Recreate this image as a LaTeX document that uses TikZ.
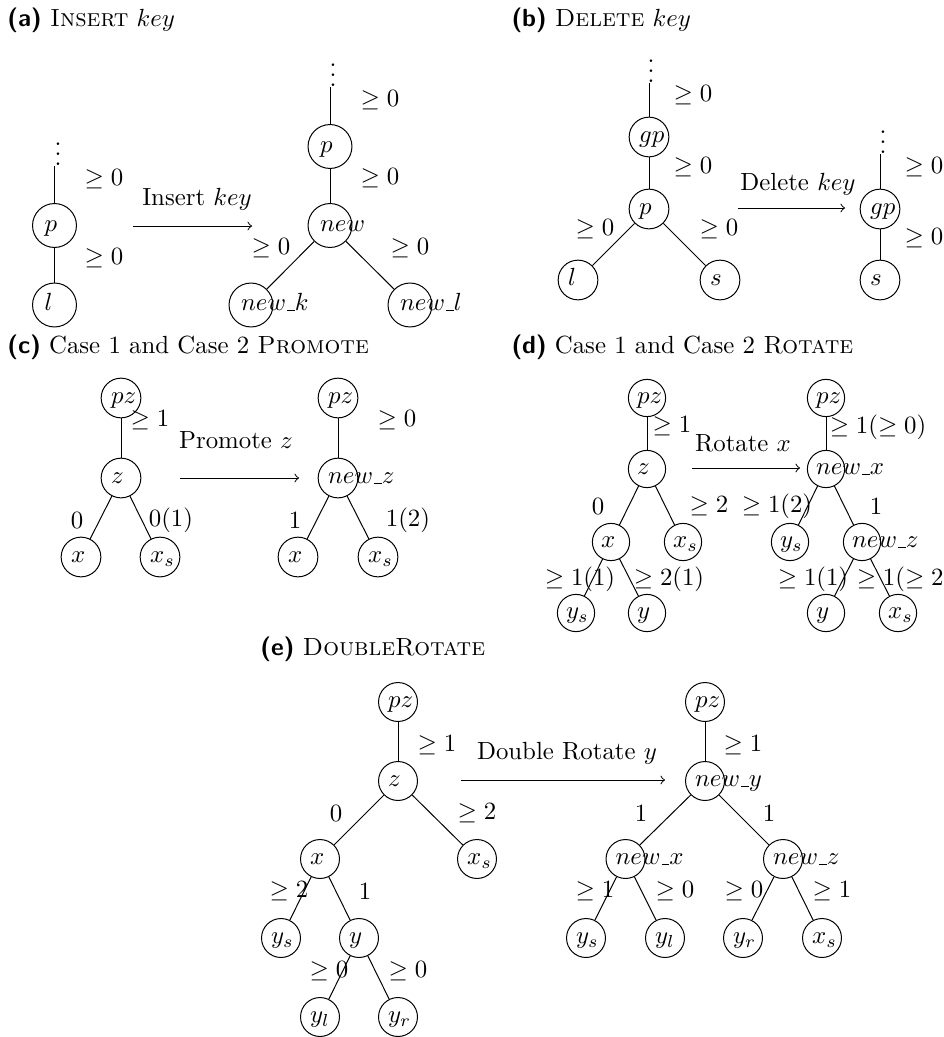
\documentclass[tikz,border=0pt]{standalone}
\tikzset{
  vtx/.style={circle, draw, minimum size=16pt, inner sep=0pt},
  wt/.style={inner sep=0pt},
  vdot/.style={inner sep=0pt, anchor=south},
  subcap/.style={anchor=base west, inner sep=0pt},
  op/.style={->},
}
\newcommand{\vname}[1]{\makebox[0pt][l]{\kern-4pt\strut$#1$}}
\newcommand{\us}{\mbox{\kern.06em\vbox{\hrule width.3em}}}
\newcommand{\pcap}[1]{{\sffamily\bfseries (#1)}\ }
\begin{document}
\begin{tikzpicture}[x=0.403pt, y=-0.403pt]
  \useasboundingbox (0,0) rectangle (944,1037);

  % (a)
  \node[subcap] (capa) at (7,27) {\pcap{a}\textsc{Insert} $key$};
  \begin{scope}[vtx/.append style={minimum size=17.7pt}]
    \node[vdot]      (ad1)   at (58,166)    {$\vdots$};
    \node[vtx]       (ap1)   at (54.5,225.5) {\vname{p}};
    \node[vtx]       (al)    at (54.5,305)  {\vname{l}};
    \node[wt]        (aw1)   at (104,179)   {$\geq 0$};
    \node[wt]        (aw2)   at (104,258)   {$\geq 0$};
    \draw (ap1 |- ad1.south) -- (ap1);
    \draw (ap1) -- (al);

    \coordinate (aa) at (133,226);
    \coordinate (ab) at (252,226);
    \draw[op] (aa) -- (ab);
    \node[wt]        (aop)   at (197,199)   {Insert $key$};

    \node[vdot]      (ad2)   at (333,87)    {$\vdots$};
    \node[vtx]       (ap2)   at (330,146.5) {\vname{p}};
    \node[vtx]       (anew)  at (330,225.5) {\vname{new}};
    \node[vtx]       (ank)   at (251,305)   {\vname{new\us k}};
    \node[vtx]       (anl)   at (410,305)   {\vname{new\us l}};
    \node[wt]        (aw3)   at (380,100)   {$\geq 0$};
    \node[wt]        (aw4)   at (380,178)   {$\geq 0$};
    \node[wt]        (aw5)   at (271,248)   {$\geq 0$};
    \node[wt]        (aw6)   at (410,248)   {$\geq 0$};
    \draw (ap2 |- ad2.south) -- (ap2);
    \draw (ap2) -- (anew);
    \draw (anew) -- (ank);
    \draw (anew) -- (anl);
  \end{scope}

  % (b)
  \node[subcap] (capb) at (511,27) {\pcap{b}\textsc{Delete} $key$};
  \node[vdot]        (bd1)   at (651,83)    {$\vdots$};
  \node[vtx]         (bgp1)  at (649,137)   {\vname{gp}};
  \node[vtx]         (bp)    at (649,209)   {\vname{p}};
  \node[vtx]         (bl)    at (578,280)   {\vname{l}};
  \node[vtx]         (bs1)   at (720,280)   {\vname{s}};
  \node[wt]          (bw1)   at (693,95)    {$\geq 0$};
  \node[wt]          (bw2)   at (693,167)   {$\geq 0$};
  \node[wt]          (bw3)   at (595,229)   {$\geq 0$};
  \node[wt]          (bw4)   at (719,229)   {$\geq 0$};
  \draw (bgp1 |- bd1.south) -- (bgp1);
  \draw (bgp1) -- (bp);
  \draw (bp) -- (bl);
  \draw (bp) -- (bs1);

  \coordinate (ba) at (738,208);
  \coordinate (bb) at (845,208);
  \draw[op] (ba) -- (bb);
  \node[wt]          (bop)   at (798,184)   {Delete $key$};

  \node[vdot]        (bd2)   at (883,154)   {$\vdots$};
  \node[vtx]         (bgp2)  at (880,209)   {\vname{gp}};
  \node[vtx]         (bs2)   at (880,280)   {\vname{s}};
  \node[wt]          (bw5)   at (924,167)   {$\geq 0$};
  \node[wt]          (bw6)   at (924,238)   {$\geq 0$};
  \draw (bgp2 |- bd2.south) -- (bgp2);
  \draw (bgp2) -- (bs2);

  % (c)
  \node[subcap] (capc) at (7,353) {\pcap{c}Case 1 and Case 2 \textsc{Promote}};
  \node[vtx]         (cpz1)  at (121,398)   {\vname{pz}};
  \node[vtx]         (cz)    at (121,478)   {\vname{z}};
  \node[vtx]         (cx1)   at (81,557)    {\vname{x}};
  \node[vtx]         (cxs1)  at (160,557)   {\vname{x_s}};
  \node[wt]          (cw1)   at (150,420)   {$\geq 1$};
  \node[wt]          (cw2)   at (77,520)    {$0$};
  \node[wt]          (cw3)   at (171,520)   {$0(1)$};
  \draw (cpz1) -- (cz);
  \draw (cz) -- (cx1);
  \draw (cz) -- (cxs1);

  \coordinate (ca) at (180,478);
  \coordinate (cb) at (299,478);
  \draw[op] (ca) -- (cb);
  \node[wt]          (cop)   at (236,440)   {Promote $z$};

  \node[vtx]         (cpz2)  at (338,398)   {\vname{pz}};
  \node[vtx]         (cnz)   at (338,478)   {\vname{new\us z}};
  \node[vtx]         (cx2)   at (298,557)   {\vname{x}};
  \node[vtx]         (cxs2)  at (378,557)   {\vname{x_s}};
  \node[wt]          (cw4)   at (397,420)   {$\geq 0$};
  \node[wt]          (cw5)   at (295,520)   {$1$};
  \node[wt]          (cw6)   at (408,520)   {$1(2)$};
  \draw (cpz2) -- (cnz);
  \draw (cnz) -- (cx2);
  \draw (cnz) -- (cxs2);

  % (d)
  \node[subcap] (capd) at (511,353) {\pcap{d}Case 1 and Case 2 \textsc{Rotate}};
  \begin{scope}[vtx/.append style={minimum size=15pt}]
    \node[vtx]       (dpz1)  at (647,398)   {\vname{pz}};
    \node[vtx]       (dz)    at (647,469)   {\vname{z}};
    \node[vtx]       (dx)    at (611,542)   {\vname{x}};
    \node[vtx]       (dxs1)  at (683,542)   {\vname{x_s}};
    \node[vtx]       (dys1)  at (576,613)   {\vname{y_s}};
    \node[vtx]       (dy1)   at (647,613)   {\vname{y}};
    \node[wt]        (dw1)   at (672,426)   {$\geq 1$};
    \node[wt]        (dw2)   at (598,506)   {$0$};
    \node[wt]        (dw3)   at (709,506)   {$\geq 2$};
    \node[wt]        (dw4)   at (580,579)   {$\geq 1(1)$};
    \node[wt]        (dw5)   at (669,579)   {$\geq 2(1)$};
    \draw (dpz1) -- (dz);
    \draw (dz) -- (dx);
    \draw (dz) -- (dxs1);
    \draw (dx) -- (dys1);
    \draw (dx) -- (dy1);

    \coordinate (da) at (692,468);
    \coordinate (db) at (800,468);
    \draw[op] (da) -- (db);
    \node[wt]        (dop)   at (743,443)   {Rotate $x$};

    \node[vtx]       (dpz2)  at (826,398)   {\vname{pz}};
    \node[vtx]       (dnx)   at (826,469)   {\vname{new\us x}};
    \node[vtx]       (dys2)  at (790,542)   {\vname{y_s}};
    \node[vtx]       (dnz)   at (862,542)   {\vname{new\us z}};
    \node[vtx]       (dy2)   at (826,613)   {\vname{y}};
    \node[vtx]       (dxs2)  at (898,613)   {\vname{x_s}};
    \node[wt]        (dw6)   at (878,427)   {$\geq 1(\geq 0)$};
    \node[wt]        (dw7)   at (777,506)   {$\geq 1(2)$};
    \node[wt]        (dw8)   at (876,506)   {$1$};
    \node[wt]        (dw9)   at (813,579)   {$\geq 1(1)$};
    \node[wt]        (dw10)  at (905,579)   {$\geq 1(\geq 2)$};
    \draw (dpz2) -- (dnx);
    \draw (dnx) -- (dys2);
    \draw (dnx) -- (dnz);
    \draw (dnz) -- (dy2);
    \draw (dnz) -- (dxs2);
  \end{scope}

  % (e)
  \node[subcap] (cape) at (260,655) {\pcap{e}\textsc{DoubleRotate}};
  \begin{scope}[vtx/.append style={minimum size=15.7pt}]
    \node[vtx]       (epz1)  at (398,702)   {\vname{pz}};
    \node[vtx]       (ez)    at (398,781)   {\vname{z}};
    \node[vtx]       (ex)    at (320,859)   {\vname{x}};
    \node[vtx]       (exs1)  at (477,859)   {\vname{x_s}};
    \node[vtx]       (eys1)  at (281,938)   {\vname{y_s}};
    \node[vtx]       (ey)    at (359,938)   {\vname{y}};
    \node[vtx]       (eyl1)  at (320,1017)  {\vname{y_l}};
    \node[vtx]       (eyr1)  at (398,1017)  {\vname{y_r}};
    \node[wt]        (ew1)   at (437,745)   {$\geq 1$};
    \node[wt]        (ew2)   at (336,813)   {$0$};
    \node[wt]        (ew3)   at (477,813)   {$\geq 2$};
    \node[wt]        (ew4)   at (289,891)   {$\geq 2$};
    \node[wt]        (ew5)   at (365,891)   {$1$};
    \node[wt]        (ew6)   at (329,971)   {$\geq 0$};
    \node[wt]        (ew7)   at (408,971)   {$\geq 0$};
    \draw (epz1) -- (ez);
    \draw (ez) -- (ex);
    \draw (ez) -- (exs1);
    \draw (ex) -- (eys1);
    \draw (ex) -- (ey);
    \draw (ey) -- (eyl1);
    \draw (ey) -- (eyr1);

    \coordinate (ea) at (461,780);
    \coordinate (eb) at (665,780);
    \draw[op] (ea) -- (eb);
    \node[wt]        (eop)   at (567,753)   {Double Rotate $y$};

    \node[vtx]       (epz2)  at (705,702)   {\vname{pz}};
    \node[vtx]       (eny)   at (705,781)   {\vname{new\us y}};
    \node[vtx]       (enx)   at (625.5,859) {\vname{new\us x}};
    \node[vtx]       (enz)   at (783,859)   {\vname{new\us z}};
    \node[vtx]       (eys2)  at (586,938)   {\vname{y_s}};
    \node[vtx]       (eyl2)  at (665,938)   {\vname{y_l}};
    \node[vtx]       (eyr2)  at (743,938)   {\vname{y_r}};
    \node[vtx]       (exs2)  at (822,938)   {\vname{x_s}};
    \node[wt]        (ew8)   at (743,745)   {$\geq 1$};
    \node[wt]        (ew9)   at (641,813)   {$1$};
    \node[wt]        (ew10)  at (769,813)   {$1$};
    \node[wt]        (ew11)  at (595,891)   {$\geq 1$};
    \node[wt]        (ew12)  at (675,891)   {$\geq 0$};
    \node[wt]        (ew13)  at (744,891)   {$\geq 0$};
    \node[wt]        (ew14)  at (832,891)   {$\geq 1$};
    \draw (epz2) -- (eny);
    \draw (eny) -- (enx);
    \draw (eny) -- (enz);
    \draw (enx) -- (eys2);
    \draw (enx) -- (eyl2);
    \draw (enz) -- (eyr2);
    \draw (enz) -- (exs2);
  \end{scope}
\end{tikzpicture}
\end{document}
